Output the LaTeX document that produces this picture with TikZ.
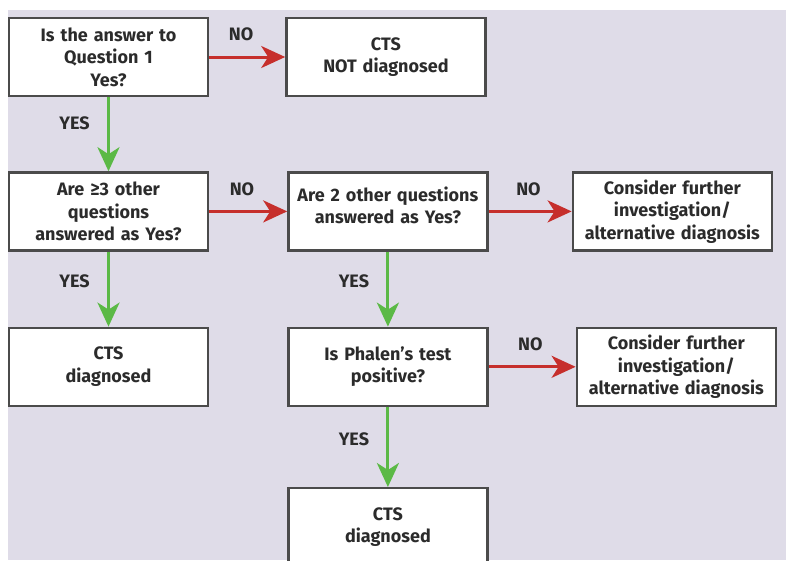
\documentclass[tikz,border=0pt]{standalone}
\usepackage{fontspec}
\setmainfont{Fira Sans}
\usepackage{tikz}
\usetikzlibrary{positioning,arrows.meta}

\definecolor{bgcol}{HTML}{DFDCE8}
\definecolor{nocol}{HTML}{C62F2C}
\definecolor{yescol}{HTML}{5BB946}
\definecolor{inkcol}{HTML}{2B2B2B}

\tikzset{
  qbox/.style={draw=inkcol!85, line width=2.4pt, fill=white, text=inkcol,
    minimum width=199pt, minimum height=78pt, text width=190pt, align=center,
    font=\bfseries\fontsize{18}{22.5}\selectfont},
  noarrow/.style={nocol, line width=3pt, -{Stealth[length=24pt,width=22pt,inset=7pt]}},
  yesarrow/.style={yescol, line width=3pt, -{Stealth[length=24pt,width=22pt,inset=7pt]}},
  lab/.style={text=inkcol, font=\bfseries\fontsize{18}{20}\selectfont}
}

\begin{document}
\begin{tikzpicture}
  \useasboundingbox (0pt,0pt) rectangle (786pt,-560pt);
  \fill[bgcol] (8pt,-10pt) rectangle (786pt,-560pt);

  \node[qbox] (q1) at (108.5pt,-57pt) {Is the answer to\\Question 1\\Yes?};
  \node[qbox, right=76pt of q1] (notcts) {CTS\\NOT diagnosed};
  \node[qbox, below=74pt of q1] (q2) {Are ≥3 other\\questions\\answered as Yes?};
  \node[qbox, right=78pt of q2] (q3) {Are 2 other questions\\answered as Yes?\\[-10pt]\mbox{}};
  \node[qbox, right=83pt of q3] (alt1) {Consider further\\investigation/\\alternative diagnosis};
  \node[qbox, below=75pt of q2] (cts1) {CTS\\diagnosed};
  \node[qbox, below=75pt of q3] (q4) {Is Phalen’s test\\positive?};
  \node[qbox, right=87pt of q4] (alt2) {Consider further\\investigation/\\alternative diagnosis};
  \node[qbox, below=80pt of q4] (cts2) {CTS\\diagnosed};

  %no
  \draw[noarrow] (q1) -- node[lab, pos=.42, above=11pt] {NO} (notcts);
  \draw[noarrow] (q2) -- node[lab, pos=.42, above=11pt] {NO} (q3);
  \draw[noarrow] (q3) -- node[lab, pos=.48, above=11pt] {NO} (alt1);
  \draw[noarrow] (q4) -- node[lab, pos=.48, above=11pt] {NO} (alt2);

  %yes
  \draw[yesarrow] (q1) -- node[lab, pos=.35, left=14pt] {YES} (q2);
  \draw[yesarrow] (q2) -- node[lab, pos=.40, left=14pt] {YES} (cts1);
  \draw[yesarrow] (q3) -- node[lab, pos=.40, left=14pt] {YES} (q4);
  \draw[yesarrow] (q4) -- node[lab, pos=.40, left=14pt] {YES} (cts2);
\end{tikzpicture}
\end{document}
